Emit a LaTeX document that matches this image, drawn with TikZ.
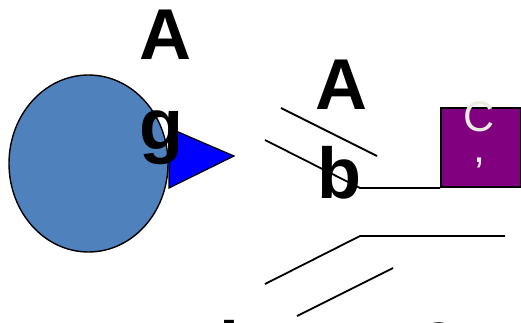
\documentclass[tikz,border=0pt]{standalone}
\usepackage{fontspec}
\usetikzlibrary{shapes.geometric}
\setmainfont{Liberation Sans}
\definecolor{ballblue}{RGB}{79,129,189}
\definecolor{boxpurple}{RGB}{128,0,128}
\definecolor{ivory}{RGB}{238,236,224}
\begin{document}
\begin{tikzpicture}[x=1pt,y=-1pt,
  bigtxt/.style={inner sep=0pt,anchor=base,font=\fontsize{72}{86}\selectfont\bfseries},
  boxtxt/.style={inner sep=0pt,anchor=base,text=ivory,font=\fontsize{43}{32}\selectfont},
  wire/.style={line width=1.8pt,black}]
\clip (0,0) rectangle (521,322);
% ellipse body
\node (ball) [ellipse,draw=black,line width=1.4pt,fill=ballblue,inner sep=0pt,
  minimum width=159,minimum height=177] at (88.5,163.5) {};
% triangle
\coordinate (t1) at (169,128);
\coordinate (t2) at (234,156);
\coordinate (t3) at (169,188);
\filldraw[fill=blue,draw=black,line width=1.2pt,line join=miter] (t1) -- (t2) -- (t3) -- cycle;
% purple box
\node (box) [draw=black,line width=1.8pt,fill=boxpurple,minimum width=80,minimum height=79,inner sep=0pt] at (481,147.5) {};
\node (c1) [boxtxt] at (479.5,131) {C};
\node (c2) [boxtxt] at (479.5,162.5) {,};
% lines
\coordinate (l1a) at (281,108);
\coordinate (l1b) at (377,156);
\coordinate (l2a) at (265,140);
\coordinate (l2b) at (360,188);
\coordinate (l3a) at (265,284);
\coordinate (l3b) at (360,236);
\coordinate (l3c) at (505,236);
\coordinate (l4a) at (297,316);
\coordinate (l4b) at (393,268);
\draw[wire] (l1a) -- (l1b);
\draw[wire] (l2a) -- (l2b) -- (box.south west);
\draw[wire] (l3a) -- (l3b) -- (l3c);
\draw[wire] (l4a) -- (l4b);
% big labels
\node (a1) [bigtxt] at (165,59) {A};
\node (g1) [bigtxt] at (161,149) {g};
\node (a2) [bigtxt] at (341,109) {A};
\node (b2) [bigtxt] at (339,198) {b};
\node (l5) [bigtxt] at (229,372) {l};
\node (e5) [bigtxt] at (439,361) {e};
\end{tikzpicture}
\end{document}
